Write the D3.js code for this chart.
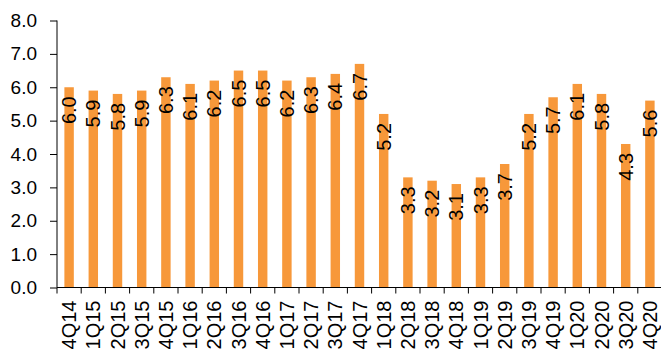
<!DOCTYPE html>
<html>
<head>
<meta charset="utf-8">
<script src="https://cdn.jsdelivr.net/npm/d3@7"></script>
<style>
  html, body { margin: 0; padding: 0; background: #fff; }
  svg { display: block; }
  text { font-family: "Liberation Sans", Arial, sans-serif; fill: #000; }
</style>
</head>
<body>
<svg id="chart" width="661" height="350"></svg>
<script>
// Quarterly series
const quarters = ["4Q14","1Q15","2Q15","3Q15","4Q15","1Q16","2Q16","3Q16","4Q16",
  "1Q17","2Q17","3Q17","4Q17","1Q18","2Q18","3Q18","4Q18","1Q19","2Q19",
  "3Q19","4Q19","1Q20","2Q20","3Q20","4Q20"];
const values = [6.0, 5.9, 5.8, 5.9, 6.3, 6.1, 6.2, 6.5, 6.5,
  6.2, 6.3, 6.4, 6.7, 5.2, 3.3, 3.2, 3.1, 3.3, 3.7,
  5.2, 5.7, 6.1, 5.8, 4.3, 5.6];
const yTicks = [0, 1, 2, 3, 4, 5, 6, 7, 8];

const svg = d3.select("#chart");
const plotLeft = 57, plotTop = 20.5, plotBottom = 287.5;
const band = 24.2;
const plotRight = plotLeft + band * quarters.length;

const x = d3.scaleBand().domain(quarters).range([plotLeft, plotRight]).paddingInner(0).paddingOuter(0);
const y = d3.scaleLinear().domain([0, 8]).range([plotBottom, plotTop]);
const barW = band * 0.39;

// Bars
svg.append("g").selectAll("rect").data(quarters).join("rect")
  .attr("x", d => x(d) + (x.bandwidth() - barW) / 2)
  .attr("y", (d, i) => y(values[i]))
  .attr("width", barW)
  .attr("height", (d, i) => y(0) - y(values[i]))
  .attr("fill", "#F7983A");

// Value labels, rotated, inside the top of each bar
svg.append("g").selectAll("text").data(quarters).join("text")
  .attr("transform", (d, i) => `translate(${x(d) + x.bandwidth() / 2},${y(values[i]) + 9}) rotate(-90)`)
  .attr("text-anchor", "end")
  .attr("dominant-baseline", "central")
  .style("font-size", "20px")
  .text((d, i) => values[i].toFixed(1));

// Y axis
const yAxis = svg.append("g")
  .attr("transform", `translate(${plotLeft},0)`)
  .call(d3.axisLeft(y).tickValues(yTicks).tickFormat(d3.format(".1f")).tickSize(7).tickPadding(13));
yAxis.selectAll("text").style("font-size", "19px");
yAxis.select(".domain").attr("d", `M0,${plotTop}V${plotBottom}`).attr("stroke", "#000");
yAxis.selectAll(".tick line").attr("stroke", "#000");

// X axis: ticks on band boundaries, rotated labels
const xAxisG = svg.append("g").attr("transform", `translate(0,${plotBottom})`);
xAxisG.append("line").attr("x1", plotLeft).attr("x2", plotRight).attr("stroke", "#000");
const bounds = quarters.map(d => x(d)).concat([plotRight]);
xAxisG.selectAll("line.tk").data(bounds).join("line")
  .attr("class", "tk")
  .attr("x1", d => d).attr("x2", d => d)
  .attr("y1", 0).attr("y2", 6)
  .attr("stroke", "#000");
xAxisG.selectAll("text").data(quarters).join("text")
  .attr("transform", d => `translate(${x(d) + x.bandwidth() / 2},13) rotate(-90)`)
  .attr("text-anchor", "end")
  .attr("dominant-baseline", "central")
  .style("font-size", "20px")
  .text(d => d);
</script>
</body>
</html>
